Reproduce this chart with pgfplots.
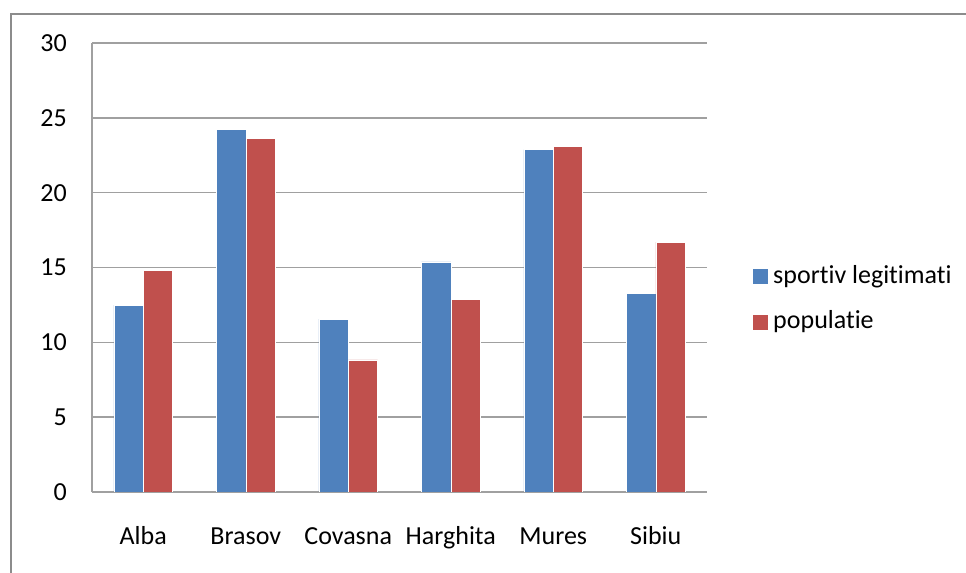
\documentclass[border=0pt]{standalone}
\usepackage{pgfplots}
\pgfplotsset{compat=1.18}
\usepackage{fontspec}
\setmainfont{Carlito}[Ligatures={NoCommon,NoContextual}]
\definecolor{sblue}{HTML}{4F81BD}
\definecolor{sred}{HTML}{C0504D}
\definecolor{gridc}{HTML}{A0A0A0}
\definecolor{framec}{HTML}{8C8C8C}
\begin{document}
\begin{tikzpicture}[font=\fontsize{26bp}{31bp}\selectfont]
\begin{axis}[
  at={(92bp,81bp)}, anchor=south west,
  scale only axis,
  width=615bp, height=449bp,
  ybar=0pt, bar width=29.3bp,
  xmin=-0.5, xmax=5.5,
  ymin=0, ymax=30,
  ytick={0,5,...,30},
  xtick=data,
  xticklabels={Alba,Brasov,Covasna,Harghita,Mures,Sibiu},
  axis x line*=bottom, axis y line*=left,
  axis line style={draw=gridc, line width=1.5bp, -},
  ymajorgrids, grid style={draw=gridc, line width=1.5bp},
  major tick length=0pt,
  /pgf/number format/assume math mode=true,
  yticklabel style={anchor=east, inner sep=0pt, xshift=-25bp},
  xticklabel style={anchor=base, inner sep=0pt, yshift=-52bp},
  legend style={draw=none, fill=none, at={(1.07,0.433)}, anchor=west,
    nodes={inner sep=0pt, anchor=base west}, legend cell align=left,
    row sep=26bp, column sep=5bp},
  legend image code/.code={\fill[#1,draw=none] (0bp,-1bp) rectangle (15bp,14bp);},
]
\addplot[fill=sblue, draw=white, line width=0.5bp] coordinates {(0,12.49) (1,24.25) (2,11.55) (3,15.38) (4,22.88) (5,13.27)};
\addplot[fill=sred, draw=white, line width=0.5bp] coordinates {(0,14.81) (1,23.65) (2,8.82) (3,12.85) (4,23.07) (5,16.70)};
\legend{sportiv legitimati, populatie}
\end{axis}
\draw[framec, line width=2bp] (11bp,0bp) -- (11bp,559bp) -- (975bp,559bp);
\pgfresetboundingbox
\path[use as bounding box] (0bp,0bp) rectangle (966bp,573bp);
\end{tikzpicture}
\end{document}
